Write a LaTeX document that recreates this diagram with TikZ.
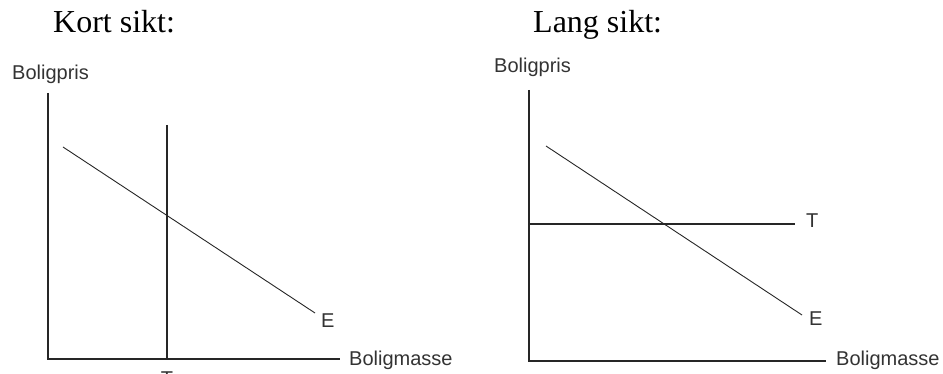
\documentclass[tikz,border=0pt]{standalone}
\usepackage{fontspec}
\setmainfont{Liberation Serif}
\newfontfamily\axisfont{Liberation Sans}
\begin{document}
\begin{tikzpicture}[x=1pt,y=-1pt,
  axis/.style={line width=1.3pt,draw=black!85},
  curve/.style={line width=0.9pt,draw=black!85},
  title/.style={font=\fontsize{32}{32}\selectfont,inner sep=0pt,anchor=base west},
  lab/.style={font=\axisfont\fontsize{20}{20}\selectfont,inner sep=0pt,text=black!80}]
\useasboundingbox (0,0) rectangle (943,374);
% left panel
\node[title] (t1) at (53,33) {Kort sikt:};
\node[lab,anchor=west] (yl1) at (12,74) {Boligpris};
\coordinate (o1) at (48,359);
\coordinate (ytop1) at (48,93);
\coordinate (xend1) at (340,359);
\draw[axis] (ytop1) -- (o1) -- (xend1);
\node[lab,anchor=west] (xl1) at (349,360) {Boligmasse};
\coordinate (vtop) at (167,125);
\coordinate (vbot) at (167,359);
\draw[axis] (vtop) -- (vbot);
\node[lab,anchor=north] (tl1) at (167,371.5) {T};
\coordinate (e1a) at (63,147);
\coordinate (e1b) at (315,313);
\draw[curve] (e1a) -- (e1b);
\node[lab,anchor=west] (el1) at (321,321) {E};
% right panel
\node[title] (t2) at (533,33) {Lang sikt:};
\node[lab,anchor=west] (yl2) at (494,67) {Boligpris};
\coordinate (o2) at (529,361);
\coordinate (ytop2) at (529,90);
\coordinate (xend2) at (826,361);
\draw[axis] (ytop2) -- (o2) -- (xend2);
\node[lab,anchor=west] (xl2) at (836,360) {Boligmasse};
\coordinate (hl) at (529,224);
\coordinate (hr) at (795,224);
\draw[axis] (hl) -- (hr);
\node[lab,anchor=west] (tl2) at (806,221) {T};
\coordinate (e2a) at (546,146);
\coordinate (e2b) at (802,315);
\draw[curve] (e2a) -- (e2b);
\node[lab,anchor=west] (el2) at (809,319) {E};
\end{tikzpicture}
\end{document}
